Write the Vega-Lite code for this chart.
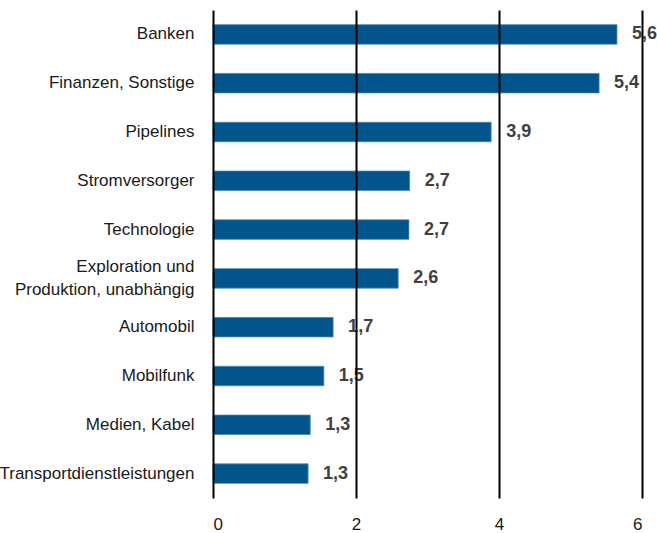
{
  "$schema": "https://vega.github.io/schema/vega-lite/v6.json",
  "autosize": "none",
  "width": 429,
  "height": 488,
  "padding": {"left": 213, "top": 10, "right": 15, "bottom": 35},
  "background": "white",
  "data": {
    "values": [
      {"sector": "Banken", "value": 5.65, "label": "5,6"},
      {"sector": "Finanzen, Sonstige", "value": 5.4, "label": "5,4"},
      {"sector": "Pipelines", "value": 3.89, "label": "3,9"},
      {"sector": "Stromversorger", "value": 2.75, "label": "2,7"},
      {"sector": "Technologie", "value": 2.74, "label": "2,7"},
      {"sector": "Exploration und|Produktion, unabhängig", "value": 2.59, "label": "2,6"},
      {"sector": "Automobil", "value": 1.68, "label": "1,7"},
      {"sector": "Mobilfunk", "value": 1.55, "label": "1,5"},
      {"sector": "Medien, Kabel", "value": 1.36, "label": "1,3"},
      {"sector": "Transportdienstleistungen", "value": 1.33, "label": "1,3"}
    ]
  },
  "encoding": {
    "y": {
      "field": "sector",
      "type": "nominal",
      "sort": null,
      "scale": {"paddingInner": 0, "paddingOuter": 0},
      "axis": {
        "title": null,
        "domain": false,
        "ticks": false,
        "grid": false,
        "labelPadding": 19,
        "labelLimit": 400,
        "labelFont": "Liberation Sans",
        "labelFontSize": 17,
        "labelColor": "#1a1a1a",
        "labelLineHeight": 23,
        "labelOffset": {"condition": {"test": "indexof(datum.value, '|') >= 0", "value": -11.5}, "value": 0},
        "labelExpr": "split(datum.label, '|')"
      }
    },
    "x": {
      "field": "value",
      "type": "quantitative",
      "scale": {"domain": [0, 6], "nice": false, "zero": true},
      "axis": {
        "title": null,
        "values": [0, 2, 4, 6],
        "domain": false,
        "ticks": false,
        "grid": true,
        "gridColor": "#000000",
        "gridWidth": 2,
        "gridOpacity": 1,
        "zindex": 1,
        "labelPadding": 18,
        "labelFont": "Liberation Sans",
        "labelFontSize": 17,
        "labelColor": "#1a1a1a"
      }
    }
  },
  "layer": [
    {
      "mark": {"type": "bar", "size": 19.5, "color": "#02558B", "stroke": "#4d86b5", "strokeWidth": 0.8}
    },
    {
      "mark": {
        "type": "text",
        "align": "left",
        "baseline": "middle",
        "dx": 15,
        "font": "Liberation Sans",
        "fontSize": 18,
        "fontWeight": "bold",
        "color": "#404040"
      },
      "encoding": {"text": {"field": "label"}}
    }
  ],
  "config": {"view": {"stroke": null}}
}
